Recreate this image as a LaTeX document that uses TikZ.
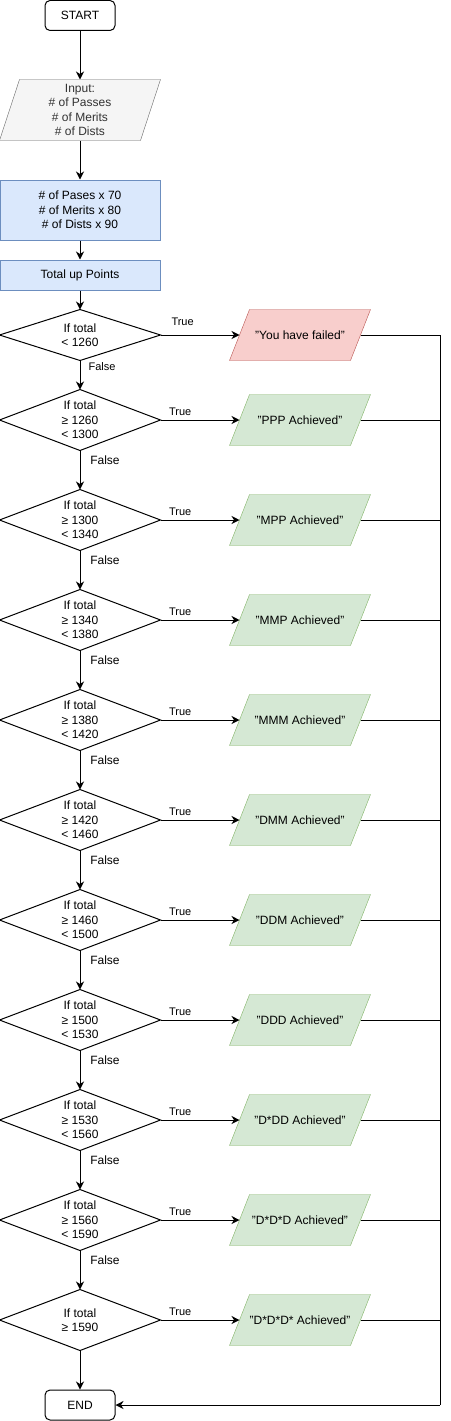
\documentclass[tikz,border=0pt]{standalone}
\usepackage{fontspec}
\setmainfont{Liberation Sans}
\usetikzlibrary{arrows.meta,backgrounds}
\definecolor{grayF}{HTML}{F5F5F5}
\definecolor{grayD}{HTML}{666666}
\definecolor{grayT}{HTML}{333333}
\definecolor{blueF}{HTML}{DAE8FC}
\definecolor{blueD}{HTML}{6C8EBF}
\definecolor{redF}{HTML}{F8CECC}
\definecolor{redD}{HTML}{B85450}
\definecolor{greenF}{HTML}{D5E8D4}
\definecolor{greenD}{HTML}{82B366}
\newcommand\parashape[3]{\filldraw[fill=#2,draw=#3] ([xshift=-10pt]#1.south west) -- ([xshift=10pt]#1.north west) -- ([xshift=10pt]#1.north east) -- ([xshift=-10pt]#1.south east) -- cycle;}
\begin{document}
\begin{tikzpicture}[x=1pt,y=-1pt,line width=1pt,
  >={Stealth[length=8pt,width=8pt,inset=2.5pt]},
  txt/.style={font=\fontsize{12}{14.4}\selectfont,align=center,inner sep=0pt},
  term/.style={txt,draw=black,rounded corners=5pt,minimum width=70pt,minimum height=30pt},
  procbox/.style={txt,draw=blueD,fill=blueF,minimum width=160pt,minimum height=60pt},
  dia/.style={txt,minimum width=160pt,minimum height=60pt},
  para/.style={txt,minimum width=120pt,minimum height=50pt},
  lbl/.style={font=\fontsize{11}{13}\selectfont,inner sep=0pt},
  flbl/.style={font=\fontsize{12}{14.4}\selectfont,inner sep=0pt}]
\useasboundingbox (0,0) rectangle (450,1421);

\node[term] (start) at (80,15.5) {START};
\node[txt,text=grayT,minimum width=140pt,minimum height=60pt] (input) at (80,110) {Input:\\\# of Passes\\\# of Merits\\\# of Dists};
\node[procbox] (calc) at (80,210) {\# of Pases x 70\\\# of Merits x 80\\\# of Dists x 90};
\node[procbox,minimum height=30pt] (total) at (80,275) {Total up Points};
\node[dia,minimum height=50pt] (d1) at (80,335) {If total\\< 1260};
\node[para] (p1) at (300,335) {"You have failed"};

\foreach \i/\lo/\hi/\res in {2/1260/1300/PPP,3/1300/1340/MPP,4/1340/1380/MMP,5/1380/1420/MMM,6/1420/1460/DMM,7/1460/1500/DDM,8/1500/1530/DDD,9/1530/1560/D*DD,10/1560/1590/D*D*D}{
  \pgfmathsetmacro\c{420+100*(\i-2)}
  \node[dia] (d\i) at (80,\c) {If total\\≥ \lo\\< \hi};
  \node[para] (p\i) at (300,\c) {"\res{} Achieved"};
}
\node[dia] (d11) at (80,1320) {If total\\≥ 1590};
\node[para] (p11) at (300,1320) {"D*D*D* Achieved"};
\node[term] (end) at (80,1405) {END};
\coordinate (rail) at (440,1405);

\begin{scope}[on background layer]
  \filldraw[fill=grayF,draw=grayD] ([xshift=-10pt]input.south west) -- ([xshift=10pt]input.north west) -- ([xshift=10pt]input.north east) -- ([xshift=-10pt]input.south east) -- cycle;
  \parashape{p1}{redF}{redD}
  \foreach \n in {p2,p3,p4,p5,p6,p7,p8,p9,p10,p11}{\parashape{\n}{greenF}{greenD}}
\end{scope}

\foreach \n in {d1,d2,d3,d4,d5,d6,d7,d8,d9,d10,d11}{
  \draw (\n.north) -- (\n.east) -- (\n.south) -- (\n.west) -- cycle;
}

\draw[->] (start) -- (input);
\draw[->] (input) -- (calc);
\draw[->] (calc) -- (total);
\draw[->] (total) -- (d1);
\draw[->] (d1) -- node[lbl,pos=0.2,xshift=22pt]{False} (d2);
\draw[->] (d1) -- node[lbl,pos=0.28,yshift=13pt]{True} (p1);
\foreach \i in {2,...,10}{
  \pgfmathtruncatemacro\j{\i+1}
  \draw[->] (d\i) -- node[flbl,pos=0.25,xshift=25pt]{False} (d\j);
  \draw[->] (d\i) -- node[lbl,pos=0.25,yshift=8pt]{True} (p\i);
}
\draw[->] (d11) -- node[lbl,pos=0.25,yshift=8pt]{True} (p11);
\draw[->] (d11) -- (end);
\foreach \n in {p1,p2,p3,p4,p5,p6,p7,p8,p9,p10,p11}{
  \draw (\n.east) -| (rail);
}
\draw[->] (rail) -- (end);
\end{tikzpicture}
\end{document}
